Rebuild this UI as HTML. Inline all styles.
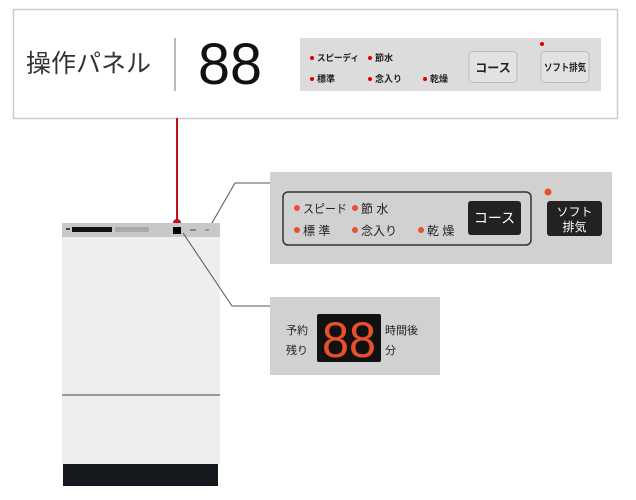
<!DOCTYPE html>
<html><head><meta charset="utf-8"><style>
body{margin:0;background:#fff;width:636px;height:500px;overflow:hidden}
svg{display:block}
text{font-family:"Liberation Sans","Noto Sans CJK JP",sans-serif}
</style></head><body>
<svg width="636" height="500" viewBox="0 0 636 500" xmlns="http://www.w3.org/2000/svg">
<!-- top box -->
<rect x="13.5" y="9.5" width="604" height="109" fill="#fff" stroke="#c9cdd1" stroke-width="1.5"/>
<text x="26" y="72" font-size="25" fill="#333">操作パネル</text>
<line x1="175" y1="38" x2="175" y2="91" stroke="#777" stroke-width="1"/>
<text x="198" y="84" font-size="58" fill="#111" font-family="DejaVu Sans Mono" textLength="64" lengthAdjust="spacingAndGlyphs">88</text>
<rect x="300" y="38" width="301" height="53" fill="#dcdcdc"/>
<g font-size="9" fill="#222" font-weight="bold">
<circle cx="312" cy="58" r="2" fill="#d00"/><text x="317" y="61" textLength="42" lengthAdjust="spacingAndGlyphs">スピーディ</text>
<circle cx="370" cy="58" r="2" fill="#d00"/><text x="375" y="61">節水</text>
<circle cx="312" cy="79" r="2" fill="#d00"/><text x="317" y="82">標準</text>
<circle cx="370" cy="79" r="2" fill="#d00"/><text x="375" y="82">念入り</text>
<circle cx="425" cy="79" r="2" fill="#d00"/><text x="430" y="82">乾燥</text>
</g>
<rect x="469" y="51.5" width="48" height="31" rx="4" fill="#e2e2e2" stroke="#bbb"/>
<text x="493" y="72" font-size="12" font-weight="bold" text-anchor="middle" fill="#222">コース</text>
<rect x="541" y="51.5" width="48" height="31" rx="4" fill="#e2e2e2" stroke="#bbb"/>
<text x="565" y="71" font-size="10" font-weight="bold" text-anchor="middle" fill="#222" textLength="42" lengthAdjust="spacingAndGlyphs">ソフト排気</text>
<circle cx="542" cy="44" r="2" fill="#d00"/>
<!-- red line -->
<line x1="177" y1="118" x2="177" y2="222" stroke="#c0101a" stroke-width="2"/>
<circle cx="177" cy="223" r="4" fill="#c0101a"/>
<!-- dishwasher -->
<rect x="62" y="237" width="158" height="227" fill="#eeeeee"/>
<rect x="62" y="223" width="158" height="14" fill="#c8c8c8"/>
<rect x="72" y="227" width="40" height="5" fill="#111"/>
<rect x="115" y="227" width="34" height="5" fill="#aaa"/>
<rect x="66" y="228" width="4" height="2" fill="#444"/>
<rect x="173" y="227" width="8" height="7" fill="#000"/>
<rect x="190" y="229" width="6" height="2" fill="#888"/>
<rect x="205" y="229" width="4" height="2" fill="#999"/>
<rect x="62" y="394" width="158" height="2" fill="#999"/>
<rect x="63" y="464" width="155" height="22" fill="#15181d"/>
<!-- connectors -->
<polyline points="212,223 235,183 270,183" fill="none" stroke="#555" stroke-width="1"/>
<polyline points="183,233 232,306 270,306" fill="none" stroke="#555" stroke-width="1"/>
<!-- upper zoom panel -->
<rect x="270" y="172" width="342" height="92" fill="#d1d1d1"/>
<rect x="283" y="192" width="248" height="53" rx="5" fill="none" stroke="#333" stroke-width="1.5"/>
<g font-size="12" fill="#222">
<circle cx="297" cy="208" r="3" fill="#e8502a"/><text x="303" y="213" textLength="44" lengthAdjust="spacingAndGlyphs">スピード</text>
<circle cx="355" cy="208" r="3" fill="#e8502a"/><text x="361" y="213">節 水</text>
<circle cx="297" cy="230" r="3" fill="#e8502a"/><text x="303" y="235">標 準</text>
<circle cx="355" cy="230" r="3" fill="#e8502a"/><text x="361" y="235">念入り</text>
<circle cx="421" cy="230" r="3" fill="#e8502a"/><text x="427" y="235">乾 燥</text>
</g>
<rect x="468" y="201" width="53" height="34" rx="3" fill="#222"/>
<text x="494.5" y="223" font-size="14" fill="#fff" text-anchor="middle">コース</text>
<circle cx="548" cy="192" r="3.5" fill="#e8502a"/>
<rect x="547" y="201" width="55" height="35" rx="3" fill="#222"/>
<text x="574.5" y="216" font-size="12" fill="#fff" text-anchor="middle">ソフト</text>
<text x="574.5" y="231" font-size="12" fill="#fff" text-anchor="middle">排気</text>
<!-- lower zoom panel -->
<rect x="270" y="297" width="170" height="78" fill="#d1d1d1"/>
<text x="286" y="334" font-size="11" fill="#222">予約</text>
<text x="286" y="354" font-size="11" fill="#222">残り</text>
<rect x="317" y="314" width="64" height="48" rx="2" fill="#111"/>
<text x="322" y="357" font-size="50" fill="#e8502a" font-family="DejaVu Sans Mono" textLength="54" lengthAdjust="spacingAndGlyphs">88</text>
<text x="385" y="334" font-size="11" fill="#222">時間後</text>
<text x="385" y="354" font-size="11" fill="#222">分</text>
</svg>
</body></html>
